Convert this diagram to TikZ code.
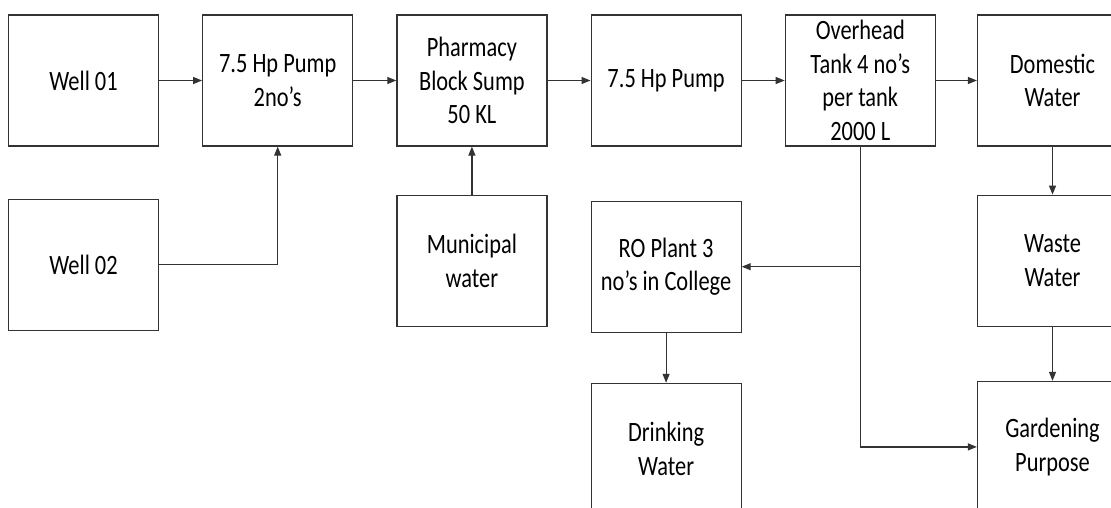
\documentclass[tikz,border=0pt]{standalone}
\usepackage{fontspec}
\setmainfont[FakeStretch=0.8]{Carlito}
\usetikzlibrary{positioning,arrows.meta}

\begin{document}
\begin{tikzpicture}[
		node distance=43pt,
		box/.style={draw=black!80, line width=1.2pt, minimum width=150pt, minimum height=131pt, align=center, inner sep=1pt, font=\fontsize{28}{33.5}\selectfont},
		arrow/.style={-{Triangle[length=9pt,width=7pt]}, draw=black!80, line width=1.2pt}
		]
		
		\clip (0,0) rectangle (1111pt,-507pt);
		
		\node[box] (W1) at (83.5pt,-80.5pt) {Well 01};
		\node[box, below=52pt of W1] (W2) {Well 02};
		
		\node[box, right=of W1] (P2) {7.5 Hp Pump\\2no’s};
		\node[box, right=of P2] (PB) {Pharmacy\\Block Sump\\50 KL};
		\node[box, below=48pt of PB] (MW) {Municipal\\water};
		
		\node[box, right=of PB] (P1) {7.5 Hp Pump};
		\node[box, below=54pt of P1] (RO) {RO Plant 3\\no’s in College};
		\node[box, below=50pt of RO] (DW) {Drinking\\Water};
		
		\node[box, right=of P1] (OT) {Overhead\\Tank 4 no’s\\per tank\\2000 L};
		\node[box, right=41pt of OT] (DM) {Domestic\\Water};
		\node[box, below=48pt of DM] (WW) {Waste\\Water};
		\node[box, below=54pt of WW] (GP) {Gardening\\Purpose};
		
		\draw[arrow] (W1) -- (P2);
		\draw[arrow] (W2) -| (P2);
		\draw[arrow] (P2) -- (PB);
		\draw[arrow] (MW) -- (PB);
		\draw[arrow] (PB) -- (P1);
		\draw[arrow] (P1) -- (OT);
		\draw[arrow] (OT) -- (DM);
		
		\draw[arrow] (OT.south) |- (RO);
		\draw[arrow] (OT.south) |- (GP);
		\draw[arrow] (RO) -- (DW);
		
		\draw[arrow] (DM) -- (WW);
		\draw[arrow] (WW) -- (GP);
		
	\end{tikzpicture}
\end{document}
